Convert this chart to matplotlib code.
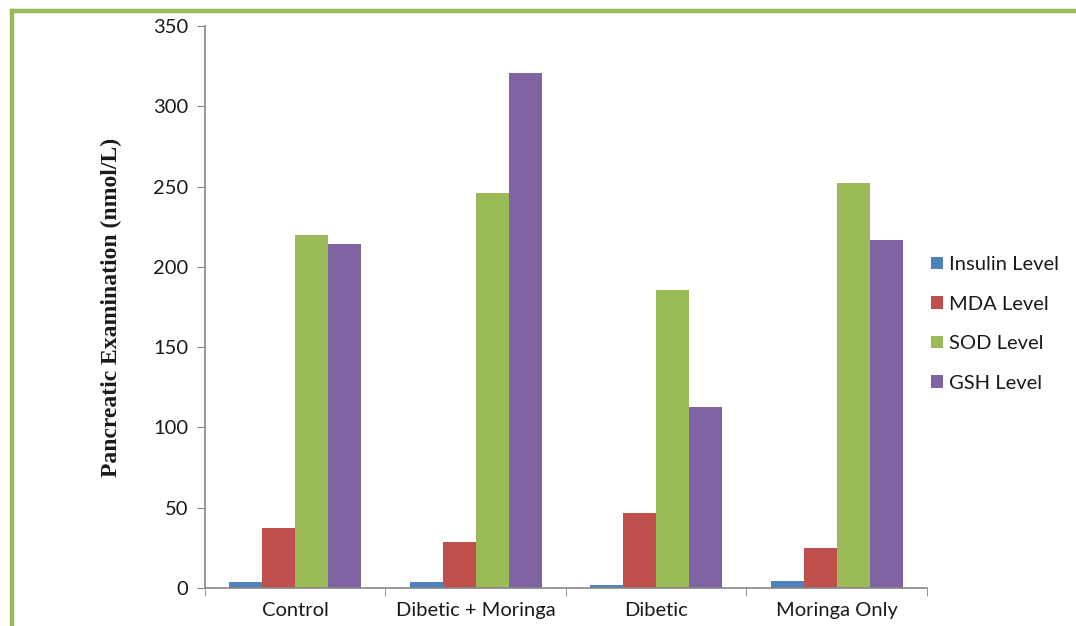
import numpy as np
import matplotlib.pyplot as plt
from matplotlib.lines import Line2D

# -----------------------------
# Data
# -----------------------------
groups = ["Control", "Dibetic + Moringa", "Dibetic", "Moringa Only"]
series_names = ["Insulin Level", "MDA Level", "SOD Level", "GSH Level"]
insulin = [3.7, 3.7, 1.8, 4.5]
mda = [37.5, 28.5, 46.5, 24.7]
sod = [220, 246, 185.5, 252]
gsh = [214, 321, 112.5, 216.5]

COLORS = ["#4F81BD", "#C0504D", "#9BBB59", "#8064A2"]
AXIS_COLOR = "#868686"
FRAME_COLOR = "#9BBB59"
TEXT_COLOR = "#1a1a1a"
FONT_SIZE = 14.5

plt.rcParams["font.family"] = ["Lato", "DejaVu Sans"]

fig = plt.figure(figsize=(10.76, 6.26), dpi=100)
ax = fig.add_axes([0.1905, 0.0607, 0.671, 0.8978])

x = np.arange(len(groups))
width = 0.183
offsets = (np.arange(4) - 1.5) * width
for vals, name, color, off in zip([insulin, mda, sod, gsh], series_names, COLORS, offsets):
    ax.bar(x + off, vals, width=width, color=color, label=name, linewidth=0)

ax.set_xlim(-0.5, len(groups) - 0.5)
ax.set_ylim(0, 350)
ax.set_yticks(range(0, 351, 50))

ax.set_xticks(x)
ax.set_xticklabels(groups)
ax.set_xticks(np.arange(-0.5, len(groups)), minor=True)
ax.tick_params(axis="x", which="major", length=0, pad=10, labelsize=FONT_SIZE, colors=TEXT_COLOR)
ax.tick_params(axis="x", which="minor", length=6, color=AXIS_COLOR, direction="out")
ax.tick_params(axis="y", length=6, color=AXIS_COLOR, labelsize=FONT_SIZE, labelcolor=TEXT_COLOR, pad=6)

for side in ["top", "right"]:
    ax.spines[side].set_visible(False)
for side in ["left", "bottom"]:
    ax.spines[side].set_color(AXIS_COLOR)
    ax.spines[side].set_linewidth(1.2)

ax.set_ylabel("Pancreatic Examination (nmol/L)", family="Liberation Serif",
              fontweight="bold", fontsize=17, color=TEXT_COLOR)
ax.yaxis.set_label_coords(-0.115, 0.5)

ax.legend(loc="upper left", bbox_to_anchor=(0.848, 0.62), bbox_transform=fig.transFigure,
          frameon=False, fontsize=FONT_SIZE, handlelength=0.6, handleheight=0.6,
          handletextpad=0.3, labelspacing=1.12, labelcolor=TEXT_COLOR)

# green frame on the left and top edges
fig.add_artist(Line2D([12 / 1076, 12 / 1076], [0, 1 - 11 / 626], transform=fig.transFigure,
                      color=FRAME_COLOR, linewidth=3.2, solid_capstyle="projecting"))
fig.add_artist(Line2D([12 / 1076, 1], [1 - 11 / 626, 1 - 11 / 626], transform=fig.transFigure,
                      color=FRAME_COLOR, linewidth=3.2, solid_capstyle="projecting"))

fig.savefig("out.png", dpi=100)
plt.close(fig)
